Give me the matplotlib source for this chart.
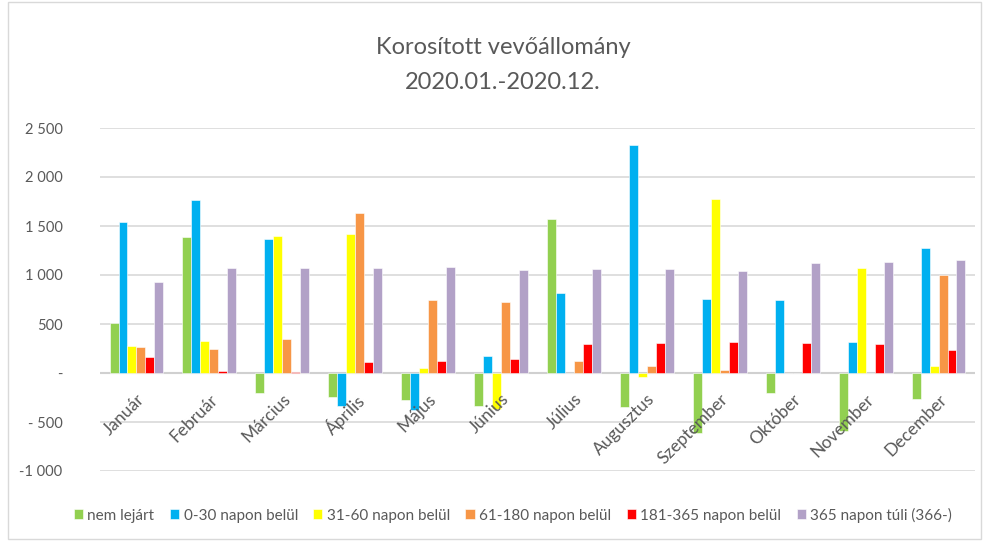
import numpy as np
import matplotlib
matplotlib.use("Agg")
import matplotlib.pyplot as plt
from matplotlib.patches import Rectangle
from matplotlib.ticker import FixedLocator
import matplotlib.transforms as mtransforms

months = ["Január", "Február", "Március", "Április", "Május", "Június",
          "Július", "Augusztus", "Szeptember", "Október", "November", "December"]
series_names = ["nem lejárt", "0-30 napon belül", "31-60 napon belül",
                "61-180 napon belül", "181-365 napon belül", "365 napon túli (366-)"]
nem_lejart = [510, 1391, -200, -248, -272, -337, 1574, -347, -609, -200, -588, -262]
d0_30 = [1544, 1768, 1370, -340, -374, 177, 813, 2329, 758, 748, 320, 1278]
d31_60 = [275, 330, 1401, 1414, 48, -367, 0, -37, 1771, 0, 1074, 71]
d61_180 = [265, 241, 350, 1629, 748, 728, 126, 71, 27, 0, 0, 996]
d181_365 = [167, 17, 15, 112, 126, 146, 296, 309, 320, 309, 296, 235]
d365_plus = [928, 1071, 1071, 1071, 1085, 1051, 1061, 1061, 1037, 1125, 1136, 1156]
yticks = [-1000, -500, 0, 500, 1000, 1500, 2000, 2500]
ytick_labels = ["-1 000", "- 500", "-", "500", "1 000", "1 500", "2 000", "2 500"]
title_lines = ["Korosított vevőállomány", "2020.01.-2020.12."]

colors = ["#92D050", "#00B0F0", "#FFFF00", "#F79646", "#FF0000", "#B2A1C7"]
series = [nem_lejart, d0_30, d31_60, d61_180, d181_365, d365_plus]

plt.rcParams['font.family'] = ['Lato', 'DejaVu Sans']
W, H = 983, 541
fig = plt.figure(figsize=(W / 100, H / 100), dpi=100)
ax = fig.add_axes([100 / W, 1 - 471 / H, (975 - 100) / W, (471 - 128) / H])

x = np.arange(len(months))
bw = 0.123
handles = []
for k, (vals, c, name) in enumerate(zip(series, colors, series_names)):
    h = ax.bar(x + (k - 2.5) * bw, vals, width=bw, color=c, edgecolor='white',
               linewidth=0.4, label=name, zorder=3)
    handles.append(h)

ax.set_xlim(-0.5, len(months) - 0.5)
ax.set_ylim(-1000, 2500)
ax.yaxis.set_major_locator(FixedLocator(yticks))
ax.set_yticklabels(ytick_labels)
ax.grid(axis='y', color='#D9D9D9', linewidth=1.2, zorder=0)
ax.axhline(0, color='#D0D0D0', linewidth=1.5, zorder=2)
for s in ax.spines.values():
    s.set_visible(False)
ax.tick_params(axis='y', length=0, labelsize=10.5, labelcolor='#595959', pad=27)
ax.tick_params(axis='x', length=0, labelbottom=False)

trans = mtransforms.offset_copy(ax.transData, fig=fig, x=0, y=-13, units='points')
for i, m in enumerate(months):
    ax.text(i, 0, m, transform=trans, rotation=45, rotation_mode='anchor',
            ha='right', va='top', fontsize=12.5, color='#595959')

fig.text(503 / W, 1 - 47 / H, title_lines[0], ha='center', va='center',
         fontsize=17, color='#595959')
fig.text(503 / W, 1 - 83 / H, title_lines[1], ha='center', va='center',
         fontsize=17, color='#595959')

fig.legend(handles=handles, labels=series_names, loc='center',
           bbox_to_anchor=(513 / W, 1 - 515 / H), ncol=6, frameon=False,
           fontsize=11, handlelength=0.6, handleheight=0.6, handletextpad=0.3,
           columnspacing=1.0, labelcolor='#595959')

fig.patches.append(Rectangle((8 / W, 2 / H), (W - 10) / W, (H - 4) / H,
                             transform=fig.transFigure, fill=False,
                             edgecolor='#D9D9D9', linewidth=1))

fig.savefig("out.png", dpi=100)
